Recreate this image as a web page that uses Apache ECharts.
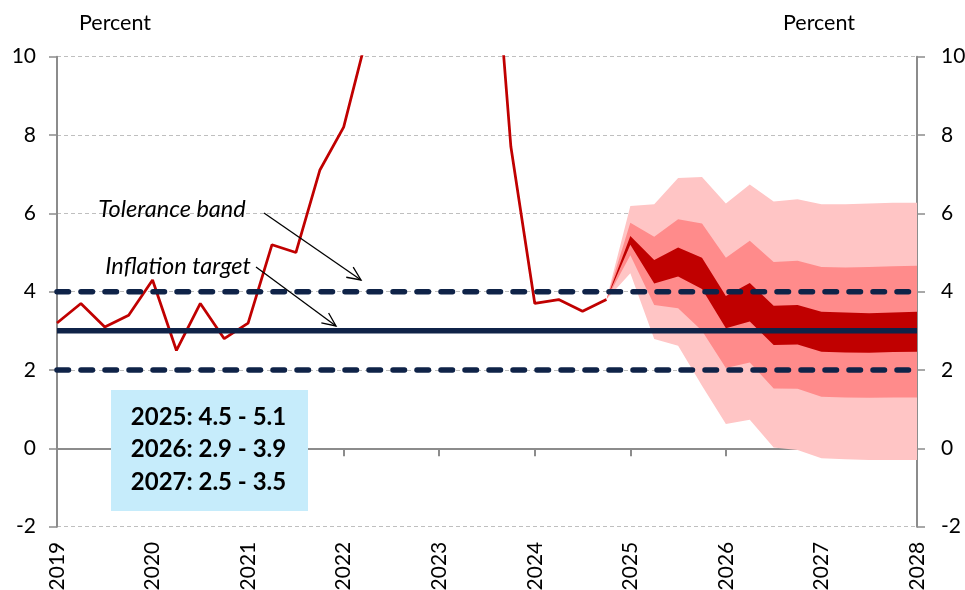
<!DOCTYPE html>
<html><head><meta charset="utf-8">
<script src="https://cdn.jsdelivr.net/npm/echarts@6/dist/echarts.min.js"></script>
<style>html,body{margin:0;padding:0;background:#fff}#c{width:965px;height:590px}</style>
</head><body><div id="c"></div>
<script>
// ---- Data ----
const histX = [2019.00,2019.25,2019.50,2019.75,2020.00,2020.25,2020.50,2020.75,2021.00,2021.25,2021.50,2021.75,
               2022.00,2022.25,2022.50,2022.75,2023.00,2023.25,2023.50,2023.75,2024.00,2024.25,2024.50,2024.75];
const histY = [3.2,3.7,3.1,3.4,4.3,2.5,3.7,2.8,3.2,5.2,5.0,7.1,
               8.2,10.6,16.5,22.7,25.4,21.9,15.4,7.7,3.7,3.8,3.5,3.8];

const fcX      = [2024.75,2025.00,2025.25,2025.50,2025.75,2026.00,2026.25,2026.50,2026.75,2027.00,2027.25,2027.50,2027.75,2028.00];
const outerTop = [3.8,6.19,6.23,6.90,6.93,6.25,6.74,6.30,6.36,6.23,6.23,6.25,6.27,6.27];
const midTop   = [3.8,5.76,5.40,5.85,5.74,4.87,5.30,4.76,4.79,4.63,4.62,4.63,4.65,4.66];
const darkTop  = [3.8,5.42,4.81,5.13,4.87,3.89,4.22,3.64,3.66,3.49,3.47,3.45,3.47,3.49];
const darkBot  = [3.8,5.20,4.21,4.39,4.07,3.07,3.24,2.64,2.65,2.47,2.45,2.44,2.46,2.47];
const midBot   = [3.8,4.93,3.66,3.58,3.00,2.05,2.19,1.53,1.52,1.32,1.30,1.29,1.30,1.30];
const outerBot = [3.8,4.47,2.79,2.62,1.60,0.62,0.73,0.02,-0.04,-0.25,-0.28,-0.30,-0.30,-0.30];

const targetValue = 3;
const bandValues = [2, 4];
const xRange = [2019, 2028];
const yRange = [-2, 10];
const rangeLabels = ['2025: 4.5 - 5.1', '2026: 2.9 - 3.9', '2027: 2.5 - 3.5'];
const unitLabel = 'Percent';
const annToleranceText = 'Tolerance band';
const annTargetText = 'Inflation target';

// ---- Styles ----
const C_LIGHT = '#FFC5C5', C_MED = '#FF8B8B', C_DARK = '#C00000';
const C_NAVY = '#0F2348', C_RED = '#C00000', C_AXIS = '#8C8C8C', C_GRID = '#BFBFBF';
const FONT = 'Lato, "Open Sans", "DejaVu Sans", sans-serif';

const chart = echarts.init(document.getElementById('c'), null, {renderer: 'canvas'});

function pairs(xs, ys) { return xs.map((x, i) => [x, ys[i]]); }

const fanBands = [
  {upper: outerTop, lower: outerBot, color: C_LIGHT},
  {upper: midTop,   lower: midBot,   color: C_MED},
  {upper: darkTop,  lower: darkBot,  color: C_DARK}
];

const series = [];
series.push({
  type: 'custom', name: 'fan', z: 2, silent: true, clip: true,
  data: fanBands.map((b, i) => [fcX[0], b.upper[0], i]),
  encode: {x: 0, y: 1},
  renderItem: function (params, api) {
    const b = fanBands[params.dataIndex];
    const pts = [];
    for (let i = 0; i < fcX.length; i++) pts.push(api.coord([fcX[i], b.upper[i]]));
    for (let i = fcX.length - 1; i >= 0; i--) pts.push(api.coord([fcX[i], b.lower[i]]));
    return {type: 'polygon', shape: {points: pts}, style: {fill: b.color, stroke: null}};
  }
});
series.push({
  type: 'line', name: 'CPI', data: pairs(histX, histY), symbol: 'none', z: 3,
  clip: true, lineStyle: {color: C_RED, width: 2.75}
});
bandValues.forEach(v => {
  series.push({
    type: 'line', data: [[xRange[0], v], [xRange[1], v]], symbol: 'none', z: 4,
    lineStyle: {color: C_NAVY, width: 5.5, type: [11.5, 12.5], cap: 'round'}
  });
});
series.push({
  type: 'line', data: [[xRange[0], targetValue], [xRange[1], targetValue]], symbol: 'none', z: 5,
  lineStyle: {color: C_NAVY, width: 5.5}
});

function arrow(x1, y1, x2, y2) {
  const a = Math.atan2(y2 - y1, x2 - x1), L = 15, s = 0.42;
  return [
    {type: 'line', shape: {x1, y1, x2, y2}, style: {stroke: '#000', lineWidth: 1.3}, z: 20},
    {type: 'polyline', shape: {points: [
      [x2 - L * Math.cos(a - s), y2 - L * Math.sin(a - s)], [x2, y2],
      [x2 - L * Math.cos(a + s), y2 - L * Math.sin(a + s)]]},
     style: {stroke: '#000', lineWidth: 1.3, fill: null}, z: 20}
  ];
}

const graphic = [
  {type: 'text', x: 115, y: 23, style: {text: unitLabel, font: '21.5px ' + FONT, fill: '#000', align: 'center', verticalAlign: 'middle'}},
  {type: 'text', x: 819, y: 23, style: {text: unitLabel, font: '21.5px ' + FONT, fill: '#000', align: 'center', verticalAlign: 'middle'}},
  {type: 'text', x: 172, y: 209, style: {text: annToleranceText, font: 'italic 23.5px ' + FONT, fill: '#000', align: 'center', verticalAlign: 'middle'}, z: 20},
  {type: 'text', x: 178, y: 266, style: {text: annTargetText, font: 'italic 23.5px ' + FONT, fill: '#000', align: 'center', verticalAlign: 'middle'}, z: 20},
  ...arrow(264, 213, 361, 280),
  ...arrow(256, 267, 336, 326),
  {type: 'rect', shape: {x: 111, y: 390, width: 197, height: 121}, style: {fill: '#C6ECFB'}, z: 20},
  ...rangeLabels.map((t, i) => ({
    type: 'text', x: 208.5, y: 417 + i * 32.5,
    style: {text: t, font: 'bold 24px ' + FONT, fill: '#000', align: 'center', verticalAlign: 'middle'}, z: 21
  }))
];

const option = {
  animation: false,
  backgroundColor: '#fff',
  grid: {left: 57, right: 48, top: 56.7, bottom: 63.3, containLabel: false, outerBoundsMode: 'none'},
  xAxis: [
    {type: 'value', min: xRange[0], max: xRange[1], interval: 1, position: 'bottom',
     axisLine: {show: false, onZero: false}, axisTick: {show: false}, splitLine: {show: false},
     axisLabel: {rotate: 90, margin: 15, color: '#000', fontFamily: FONT, fontSize: 21,
                 formatter: v => String(v), showMinLabel: true, showMaxLabel: true}},
    {type: 'value', min: xRange[0], max: xRange[1], interval: 1, position: 'bottom',
     axisLine: {show: true, onZero: true, onZeroAxisIndex: 0, lineStyle: {color: C_AXIS, width: 2}},
     axisTick: {show: true, inside: false, length: 8, lineStyle: {color: C_AXIS, width: 2}},
     splitLine: {show: false}, axisLabel: {show: false}}
  ],
  yAxis: [
    {type: 'value', min: yRange[0], max: yRange[1], interval: 2, position: 'left',
     axisLine: {show: true, onZero: false, lineStyle: {color: C_AXIS, width: 2}},
     axisTick: {show: true, inside: false, length: 8, lineStyle: {color: C_AXIS, width: 1.5}},
     splitLine: {show: true, lineStyle: {color: C_GRID, width: 1.2, type: [4, 3]}},
     axisLabel: {margin: 21, color: '#000', fontFamily: FONT, fontSize: 21}},
    {type: 'value', min: yRange[0], max: yRange[1], interval: 2, position: 'right',
     axisLine: {show: true, onZero: false, lineStyle: {color: C_AXIS, width: 2}},
     axisTick: {show: true, inside: false, length: 8, lineStyle: {color: C_AXIS, width: 1.5}},
     splitLine: {show: false},
     axisLabel: {margin: 24, color: '#000', fontFamily: FONT, fontSize: 21}}
  ],
  series: series,
  graphic: graphic
};
chart.setOption(option);
</script>
</body></html>
